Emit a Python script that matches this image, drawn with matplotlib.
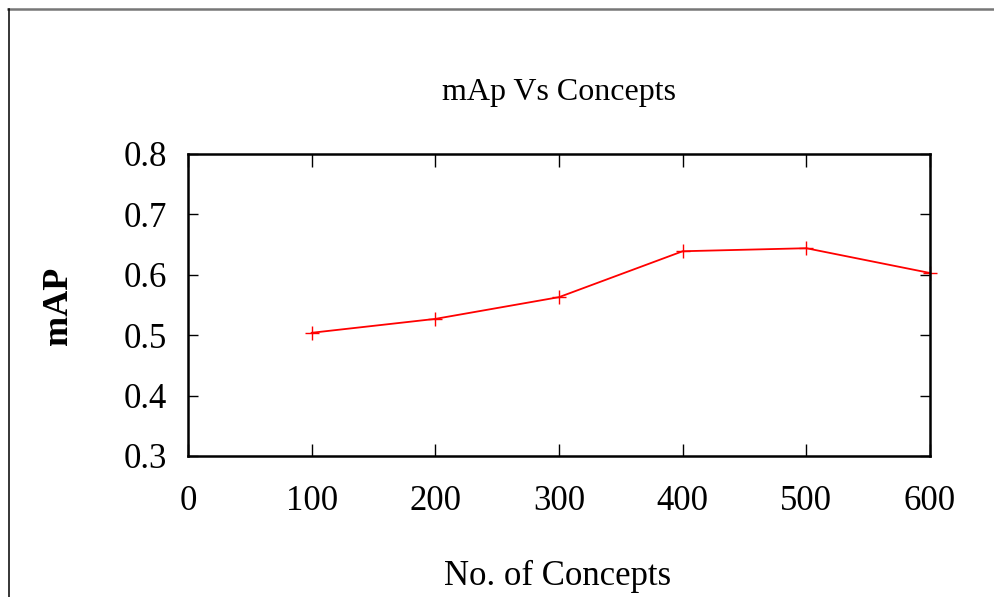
import matplotlib
matplotlib.use("Agg")
import matplotlib.pyplot as plt
from matplotlib.lines import Line2D

concepts = [100, 200, 300, 400, 500, 600]
map_values = [0.504, 0.527, 0.563, 0.639, 0.644, 0.603]
x_ticks = [0, 100, 200, 300, 400, 500, 600]
y_ticks = [0.3, 0.4, 0.5, 0.6, 0.7, 0.8]

plt.rcParams['font.family'] = ['Liberation Serif', 'DejaVu Serif']

W, H = 994, 597
fig = plt.figure(figsize=(W / 100, H / 100), dpi=100)
ax = fig.add_axes([188 / W, 1 - 456 / H, (930 - 188) / W, (456 - 154) / H])

ax.plot(concepts, map_values, color='red', linewidth=1.3, marker='+',
        markersize=10, markeredgewidth=1.0, clip_on=False)
ax.set_xlim(0, 600)
ax.set_ylim(0.3, 0.8)
ax.set_xticks(x_ticks)
ax.set_yticks(y_ticks)
ax.set_xticklabels([str(v) for v in x_ticks])
ax.set_yticklabels([f"{v:.1f}" for v in y_ticks])
for s in ax.spines.values():
    s.set_linewidth(1.8)
    s.set_color('black')
ax.tick_params(axis='both', direction='in', top=True, right=True,
               labelsize=25, width=1.0)
ax.tick_params(axis='x', length=9, pad=21)
ax.tick_params(axis='y', length=7, pad=15)

fig.text(558.5 / W, 1 - 100 / H, "mAp Vs Concepts", ha='center', va='baseline',
         fontsize=23)
fig.text(557.5 / W, 1 - 585 / H, "No. of Concepts", ha='center', va='baseline',
         fontsize=25)
fig.text(59 / W, 1 - 306 / H, "mAP", ha='center', va='center', rotation=90,
         fontsize=26, fontweight='bold')

# outer frame
fig.add_artist(Line2D([8 / W, 1.0], [1 - 8.5 / H, 1 - 8.5 / H],
                      transform=fig.transFigure, color='#777777', linewidth=1.8))
fig.add_artist(Line2D([8.5 / W, 8.5 / W], [0.0, 1 - 8.5 / H],
                      transform=fig.transFigure, color='black', linewidth=1.1))

fig.savefig("out.png", dpi=100)
